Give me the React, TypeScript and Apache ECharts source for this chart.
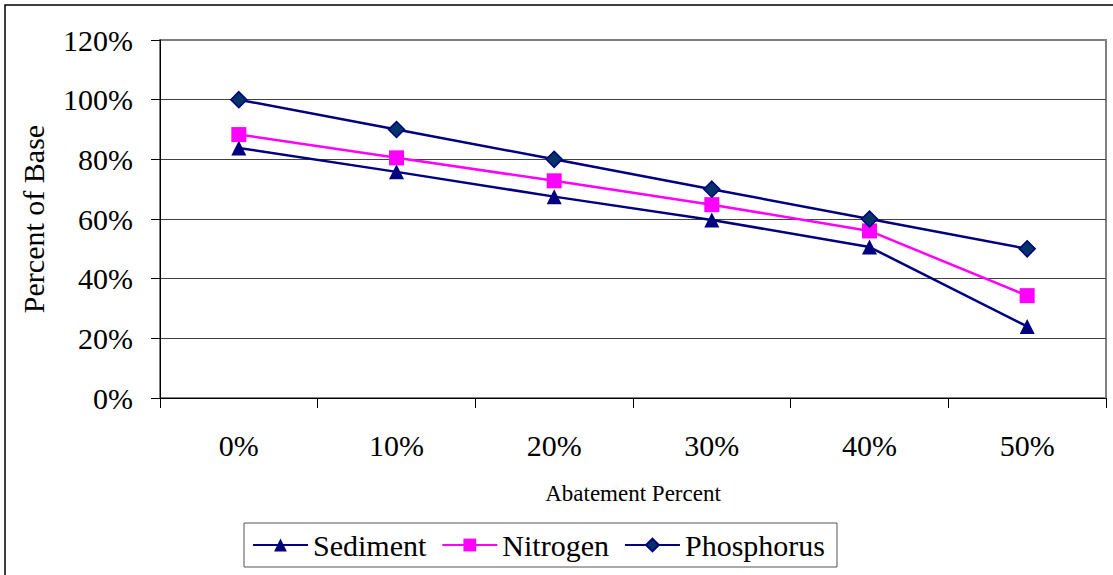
import React, { useEffect, useRef } from "react";
import * as echarts from "echarts";

const categories = ["0%", "10%", "20%", "30%", "40%", "50%"];
const sediment = [83.8, 75.8, 67.5, 59.7, 50.6, 24.0];
const nitrogen = [88.3, 80.5, 72.8, 64.8, 56.0, 34.3];
const phosphorus = [100, 90, 80, 70, 60, 50];

const FONT = "'Liberation Serif', 'Times New Roman', serif";

export default function App() {
  const ref = useRef<HTMLDivElement>(null);
  useEffect(() => {
    if (!ref.current) return;
    const chart = echarts.init(ref.current, null, { renderer: "svg" });
    chart.setOption({
      animation: false,
      backgroundColor: "#ffffff",
      textStyle: { fontFamily: FONT },
      graphic: [
        {
          type: "rect",
          shape: { x: 5, y: 5, width: 1200, height: 700 },
          style: { fill: "none", stroke: "#000", lineWidth: 1.5 },
          silent: true,
        },
      ],
      grid: {
        left: 160,
        right: 7,
        top: 40,
        bottom: 177,
        show: true,
        borderColor: "#808080",
        borderWidth: 2,
        backgroundColor: "transparent",
      },
      legend: {
        left: 244,
        top: 523,
        padding: [7, 12, 7, 8],
        itemWidth: 55,
        itemHeight: 16,
        itemGap: 15,
        borderColor: "#555",
        borderWidth: 1,
        textStyle: { fontFamily: FONT, fontSize: 30, color: "#000", padding: [0, 0, 0, 0] },
        data: ["Sediment", "Nitrogen", "Phosphorus"],
      },
      xAxis: {
        type: "category",
        data: categories,
        boundaryGap: true,
        name: "Abatement Percent",
        nameLocation: "middle",
        nameGap: 84,
        nameTextStyle: { fontFamily: FONT, fontSize: 23, color: "#000" },
        axisLine: { lineStyle: { color: "#000", width: 1 } },
        axisTick: { show: true, length: 10, alignWithLabel: false, lineStyle: { color: "#000" } },
        axisLabel: { fontFamily: FONT, fontSize: 30, color: "#000", margin: 32 },
        splitLine: { show: false },
      },
      yAxis: {
        type: "value",
        min: 0,
        max: 120,
        interval: 20,
        name: "Percent of Base",
        nameLocation: "middle",
        nameGap: 112,
        nameTextStyle: { fontFamily: FONT, fontSize: 30, color: "#000" },
        axisLine: { show: true, lineStyle: { color: "#000", width: 1 } },
        axisTick: { show: true, length: 9, lineStyle: { color: "#000" } },
        axisLabel: {
          fontFamily: FONT,
          fontSize: 30,
          color: "#000",
          margin: 27,
          formatter: (v: number) => v + "%",
        },
        splitLine: {
          show: true,
          lineStyle: {
            color: ["#404040", "#404040", "#404040", "#404040", "#404040", "#404040", "#808080"],
            width: 1,
          },
        },
      },
      series: [
        {
          name: "Sediment",
          type: "line",
          data: sediment,
          symbol: "triangle",
          symbolSize: 15,
          lineStyle: { color: "#000080", width: 2.5 },
          itemStyle: { color: "#000080" },
          z: 3,
        },
        {
          name: "Nitrogen",
          type: "line",
          data: nitrogen,
          symbol: "rect",
          symbolSize: 15,
          lineStyle: { color: "#FF00FF", width: 2.5 },
          itemStyle: { color: "#FF00FF" },
          z: 4,
        },
        {
          name: "Phosphorus",
          type: "line",
          data: phosphorus,
          symbol: "diamond",
          symbolSize: 16,
          lineStyle: { color: "#000080", width: 2.5 },
          itemStyle: { color: "#003366", borderColor: "#000080", borderWidth: 1.5 },
          z: 5,
        },
      ],
    });
    return () => chart.dispose();
  }, []);
  return (
    <div
      ref={ref}
      style={{ position: "fixed", left: 0, top: 0, width: 1113, height: 575, background: "#fff" }}
    />
  );
}
